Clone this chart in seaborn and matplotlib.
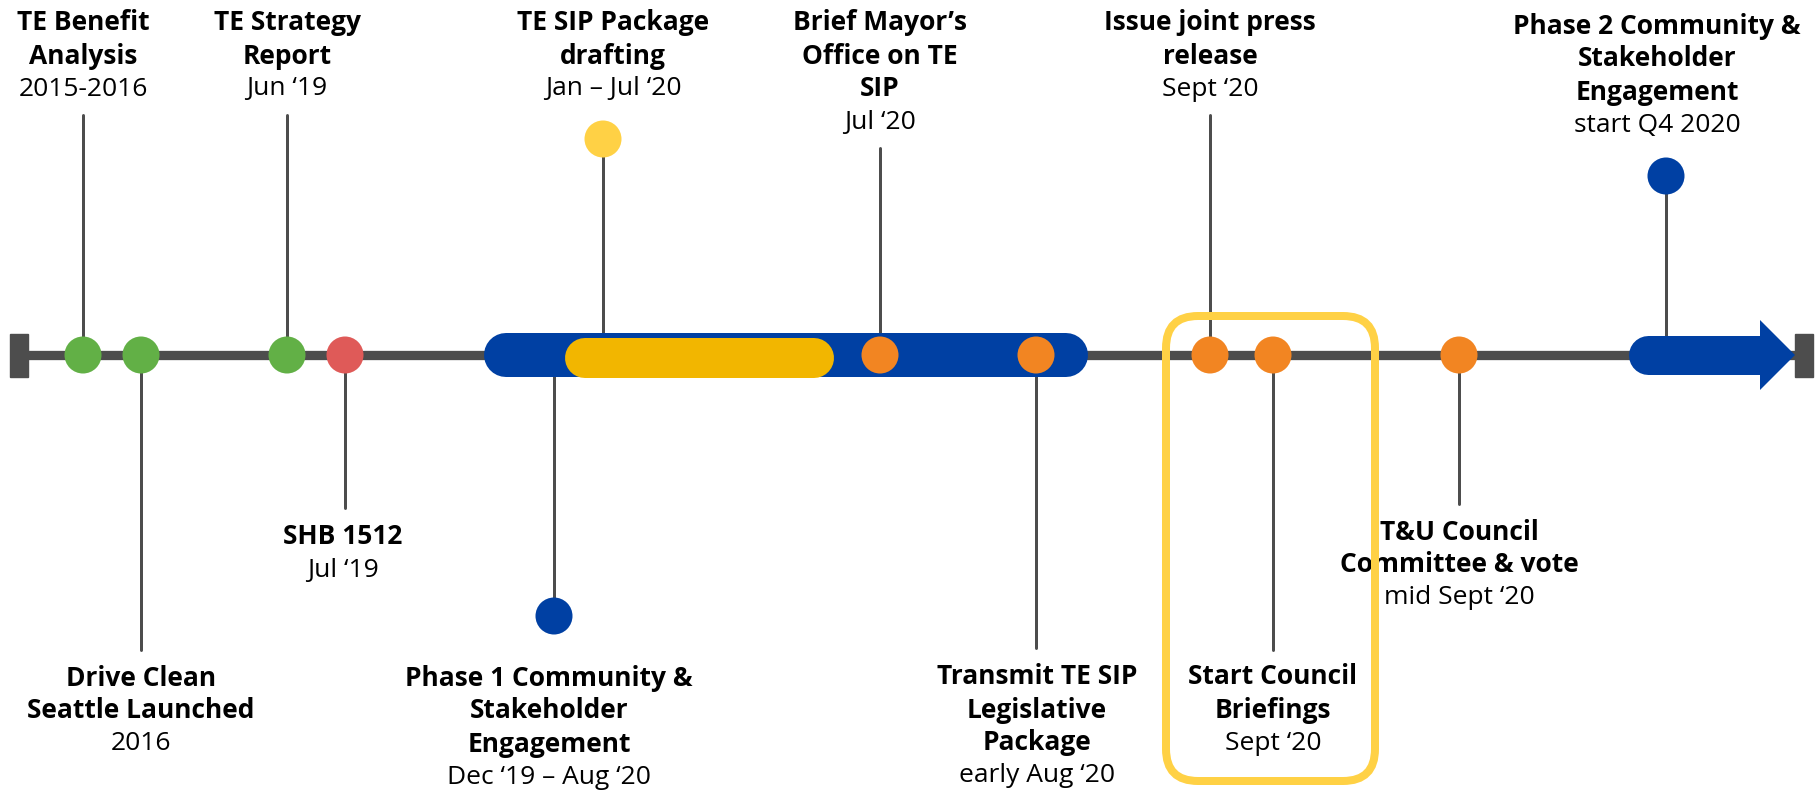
import pandas as pd
import matplotlib.pyplot as plt
from matplotlib.patches import FancyBboxPatch, Rectangle
import seaborn as sns

# Milestones (schematic timeline, positions)
titles = [
    "TE Benefit\nAnalysis",
    "Drive Clean\nSeattle Launched",
    "TE Strategy\nReport",
    "SHB 1512",
    "Phase 1 Community &\nStakeholder\nEngagement",
    "TE SIP Package\ndrafting",
    "Brief Mayor\u2019s\nOffice on TE\nSIP",
    "Transmit TE SIP\nLegislative\nPackage",
    "Issue joint press\nrelease",
    "Start Council\nBriefings",
    "T&U Council\nCommittee & vote",
    "Phase 2 Community &\nStakeholder\nEngagement",
]
dates = [
    "2015-2016", "2016", "Jun \u201819", "Jul \u201819", "Dec \u201819 \u2013 Aug \u201820",
    "Jan \u2013 Jul \u201820", "Jul \u201820", "early Aug \u201820", "Sept \u201820",
    "Sept \u201820", "mid Sept \u201820", "start Q4 2020",
]
status = ["done", "done", "done", "law", "phase", "draft",
          "step", "step", "step", "step", "step", "phase"]
pos_x = [83, 141, 287, 345, 554, 603, 880, 1036, 1210, 1273, 1459, 1666]
dot_y = [355, 355, 355, 355, 616, 139, 355, 355, 355, 355, 355, 176]
stem_end = [115, 650, 115, 508, 616, 139, 148, 648, 115, 650, 504, 176]

# spans drawn as thick bars on the timeline
timeline_span = [19, 1804]
phase1_span = [506, 1066]
drafting_span = [585, 814]
phase2_span = [1648, 1795]
highlight_box = [1166, 316, 1375, 781]  # Sept '20 group

colors = {"done": "#62B046", "law": "#DF5A58", "phase": "#0040A3",
          "draft": "#FFD145", "step": "#F28522"}
gray = "#4D4D4D"

# text layout
label_x = [83, 141, 287, 343, 549, 613, 880, 1037, 1210, 1273, 1459, 1657]
label_y = [23, 678, 23, 537, 678, 23, 23, 677, 23, 677, 532, 26]
line_step = 33

sns.set_style("white")
plt.rcParams["font.family"] = ["Open Sans", "DejaVu Sans"]

fig = plt.figure(figsize=(18.18, 7.92), dpi=100)
ax = fig.add_axes([0, 0, 1, 1])

line_y = 355
px = 72 / 100  # points per pixel

# main axis line and end caps
ax.plot(timeline_span, [line_y, line_y], color=gray, lw=9.3 * px, zorder=1,
        solid_capstyle="butt")
for xe in timeline_span:
    ax.add_patch(Rectangle((xe - 9, line_y - 21.5), 18, 43, color=gray, zorder=1))

# stems
for x, y1 in zip(pos_x, stem_end):
    ax.plot([x, x], [line_y, y1], color=gray, lw=3 * px, zorder=1.5)

# span bars
ax.plot(phase1_span, [line_y, line_y], color=colors["phase"], lw=44 * px,
        solid_capstyle="round", zorder=2)
ax.plot(drafting_span, [line_y + 3, line_y + 3], color="#F2B600", lw=40 * px,
        solid_capstyle="round", zorder=3)
hx = phase2_span[1] - 35
ax.plot([phase2_span[0], hx], [line_y, line_y], color=colors["phase"],
        lw=39 * px, solid_capstyle="round", zorder=2)
ax.fill([hx, phase2_span[1], hx], [line_y - 35, line_y, line_y + 35],
        color=colors["phase"], lw=0, zorder=2)

# milestone dots
df = pd.DataFrame({"x": pos_x, "y": dot_y, "status": status})
sns.scatterplot(data=df, x="x", y="y", hue="status", palette=colors, s=710,
                edgecolor="none", legend=False, ax=ax, zorder=5)
ax.set_xlim(0, 1818)
ax.set_ylim(792, 0)
ax.axis("off")

# labels
for t, d, x, y in zip(titles, dates, label_x, label_y):
    lines = t.split("\n")
    for i, ln in enumerate(lines):
        ax.text(x, y + i * line_step, ln, ha="center", va="center",
                fontsize=19, fontweight="bold", color="black", zorder=6)
    ax.text(x, y + len(lines) * line_step, d, ha="center", va="center",
            fontsize=19, color="black", zorder=6)

# highlight box around the September items
x0, y0, x1, y1 = highlight_box
ax.add_patch(FancyBboxPatch((x0, y0), x1 - x0, y1 - y0,
                            boxstyle="round,pad=0,rounding_size=32",
                            fill=False, ec="#FFD145", lw=8 * px, zorder=10))

fig.savefig("out.png", dpi=100)
